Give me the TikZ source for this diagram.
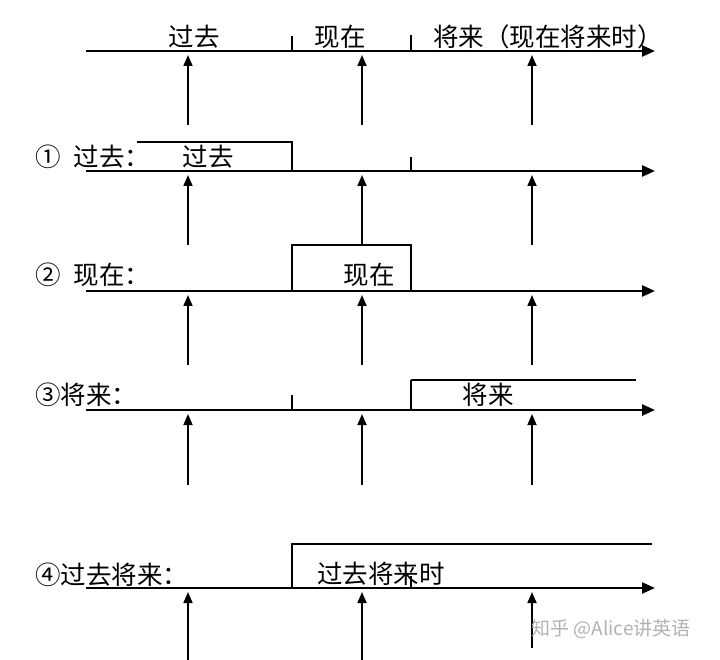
\documentclass[tikz,border=0pt]{standalone}
\usepackage{fontspec}
\setmainfont{Noto Sans CJK SC}
\usetikzlibrary{arrows.meta}
\usetikzlibrary{positioning}

\newcommand{\circnum}[1]{\makebox[1em][l]{#1}}

\begin{document}
\begin{tikzpicture}[x=1pt,y=-1pt,
    axis/.style={line width=2.4pt,-{Triangle[length=13pt,width=11pt]}},
    uparrow/.style={line width=1.7pt,-{Triangle[length=11pt,width=9pt]},shorten >=4pt},
    frame/.style={line width=1.4pt},
    tickmark/.style={line width=1.4pt},
    word/.style={font=\fontsize{25.5}{25.5}\selectfont,inner sep=0pt},
    mark label/.style={word,anchor=west}]
    \useasboundingbox (0,0) rectangle (720,660);

    % top line: the three parts of time
    \coordinate (s0) at (86,51);
    \coordinate (e0) at (655,51);
    \draw[axis] (s0) -- (e0);
    \coordinate (ka0) at (292,36); \coordinate (kb0) at (292,51);
    \coordinate (kc0) at (411,35); \coordinate (kd0) at (411,51);
    \draw[tickmark] (ka0) -- (kb0);
    \draw[tickmark,line width=2pt] (kc0) -- (kd0);
    \node[word] (past0) at (194,37) {过去};
    \node[word] (now0) at (340,37) {现在};
    \node[word] (fut0) at (548,37) {将来（现在将来时）};
    \coordinate (p0) at (188,51); \coordinate (pq0) at (188,125);
    \coordinate (n0) at (362,51); \coordinate (nq0) at (362,125);
    \coordinate (f0) at (532,51); \coordinate (fq0) at (532,125);
    \draw[uparrow] (pq0) -- (p0);
    \draw[uparrow] (nq0) -- (n0);
    \draw[uparrow] (fq0) -- (f0);

    % 1: past
    \coordinate (s1) at (86,171);
    \coordinate (e1) at (655,171);
    \draw[axis] (s1) -- (e1);
    \node[mark label] (lab1) at (35,157) {\circnum{①}\hspace{13pt}过去：};
    \coordinate (ba1) at (137,142); \coordinate (bb1) at (292,142);
    \coordinate (bc1) at (292,171);
    \draw[frame] (ba1) -- (bb1) -- (bc1);
    \node[word] (txt1) at (208,157) {过去};
    \coordinate (kc1) at (411,157); \coordinate (kd1) at (411,171);
    \draw[tickmark] (kc1) -- (kd1);
    \coordinate (p1) at (188,171); \coordinate (pq1) at (188,245);
    \coordinate (n1) at (362,171); \coordinate (nq1) at (362,245);
    \coordinate (f1) at (532,171); \coordinate (fq1) at (532,245);
    \draw[uparrow] (pq1) -- (p1);
    \draw[uparrow] (nq1) -- (n1);
    \draw[uparrow] (fq1) -- (f1);

    % 2: present
    \coordinate (s2) at (86,291);
    \coordinate (e2) at (655,291);
    \draw[axis] (s2) -- (e2);
    \node[mark label] (lab2) at (35,275) {\circnum{②}\hspace{13pt}现在：};
    \coordinate (ba2) at (292,291); \coordinate (bb2) at (292,245);
    \coordinate (bc2) at (411,245); \coordinate (bd2) at (411,291);
    \draw[frame] (ba2) -- (bb2) -- (bc2) -- (bd2);
    \node[word] (txt2) at (369,275) {现在};
    \coordinate (p2) at (188,291); \coordinate (pq2) at (188,365);
    \coordinate (n2) at (362,291); \coordinate (nq2) at (362,365);
    \coordinate (f2) at (532,291); \coordinate (fq2) at (532,365);
    \draw[uparrow] (pq2) -- (p2);
    \draw[uparrow] (nq2) -- (n2);
    \draw[uparrow] (fq2) -- (f2);

    % 3: future
    \coordinate (s3) at (86,410);
    \coordinate (e3) at (655,410);
    \draw[axis] (s3) -- (e3);
    \node[mark label] (lab3) at (35,395) {\circnum{③}将来：};
    \coordinate (ka3) at (292,395); \coordinate (kb3) at (292,410);
    \draw[tickmark] (ka3) -- (kb3);
    \coordinate (ba3) at (411,410); \coordinate (bb3) at (411,380);
    \coordinate (bc3) at (636,380);
    \draw[frame,line width=2pt] (ba3) -- (bb3);
    \draw[frame] (bb3) -- (bc3);
    \node[word] (txt3) at (488,395) {将来};
    \coordinate (p3) at (188,410); \coordinate (pq3) at (188,485);
    \coordinate (n3) at (362,410); \coordinate (nq3) at (362,485);
    \coordinate (f3) at (532,410); \coordinate (fq3) at (532,485);
    \draw[uparrow] (pq3) -- (p3);
    \draw[uparrow] (nq3) -- (n3);
    \draw[uparrow] (fq3) -- (f3);

    % 4: future in the past
    \coordinate (s4) at (86,588);
    \coordinate (e4) at (655,588);
    \draw[axis] (s4) -- (e4);
    \node[mark label] (lab4) at (35,575) {\circnum{④}过去将来：};
    \coordinate (ba4) at (292,588); \coordinate (bb4) at (292,544);
    \coordinate (bc4) at (652,544);
    \draw[frame] (ba4) -- (bb4) -- (bc4);
    \node[word] (txt4) at (381,574) {过去将来时};
    \coordinate (kc4) at (411,576); \coordinate (kd4) at (411,588);
    \draw[tickmark] (kc4) -- (kd4);
    \coordinate (p4) at (188,588); \coordinate (pq4) at (188,660);
    \coordinate (n4) at (362,588); \coordinate (nq4) at (362,660);
    \coordinate (f4) at (532,588); \coordinate (fq4) at (532,648);
    \draw[uparrow] (pq4) -- (p4);
    \draw[uparrow] (nq4) -- (n4);
    \draw[uparrow] (fq4) -- (f4);

    \node[font=\fontsize{19}{19}\selectfont,text=black!30,inner sep=0pt]
      (mark) at (611,629) {知乎 @Alice讲英语};
\end{tikzpicture}
\end{document}
